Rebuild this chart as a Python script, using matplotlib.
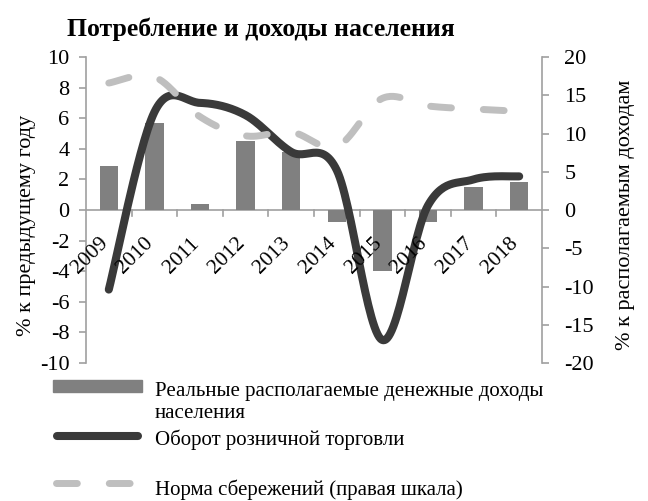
import numpy as np
import matplotlib
matplotlib.use("Agg")
import matplotlib.pyplot as plt
from matplotlib.lines import Line2D
from matplotlib.patches import Rectangle

plt.rcParams['font.family'] = ['Liberation Serif', 'DejaVu Serif']
plt.rcParams['axes.unicode_minus'] = False

years = ['2009', '2010', '2011', '2012', '2013', '2014', '2015', '2016', '2017', '2018']
income = [2.9, 5.7, 0.4, 4.5, 3.8, -0.8, -4.0, -0.8, 1.5, 1.8]
retail = [-5.2, 6.4, 7.0, 6.2, 3.8, 2.6, -8.5, 0.3, 2.0, 2.2]
savings = [16.6, 17.4, 12.2, 9.7, 10.2, 8.3, 14.6, 13.6, 13.2, 12.9]

title = 'Потребление и доходы населения'
ylab_left = '% к предыдущему году'
ylab_right = '% к располагаемым доходам'
leg_income = 'Реальные располагаемые денежные доходы\nнаселения'
leg_retail = 'Оборот розничной торговли'
leg_savings = 'Норма сбережений (правая шкала)'

bar_col = '#808080'
line_col = '#3a3a3a'
dash_col = '#bfbfbf'
axis_col = '#a0a0a0'


def smooth(y, n=30):
    # bezier smoothing similar to excel "smoothed line"
    y = np.asarray(y, float)
    x = np.arange(len(y), dtype=float)
    xs, ys = [], []
    for i in range(len(y) - 1):
        p0 = np.array([x[max(i - 1, 0)], y[max(i - 1, 0)]])
        p1 = np.array([x[i], y[i]])
        p2 = np.array([x[i + 1], y[i + 1]])
        p3 = np.array([x[min(i + 2, len(y) - 1)], y[min(i + 2, len(y) - 1)]])
        c1 = p1 + (p2 - p0) / 6
        c2 = p2 - (p3 - p1) / 6
        t = np.linspace(0, 1, n)[:, None]
        pts = (1 - t) ** 3 * p1 + 3 * (1 - t) ** 2 * t * c1 + 3 * (1 - t) * t ** 2 * c2 + t ** 3 * p2
        xs.extend(pts[:, 0])
        ys.extend(pts[:, 1])
    return np.array(xs), np.array(ys)


fig = plt.figure(figsize=(6.48, 5.01), dpi=100)
ax = fig.add_axes([0.1327, 0.2754, 0.7037, 0.6108])
ax2 = ax.twinx()

xpos = np.arange(len(years))
ax.bar(xpos, income, width=0.4, color=bar_col, zorder=2)
sx, sy = smooth(retail)
ax.plot(sx, sy, color=line_col, lw=5.8, solid_capstyle='round', zorder=3)
ax.axhline(0, color=axis_col, lw=1.2, zorder=1)

tx, ty = smooth(savings)
ax2.plot(tx, ty, color=dash_col, lw=5, dashes=(3, 4.6), dash_capstyle='round')

ax.set_xlim(-0.5, len(years) - 0.5)
ax.set_ylim(-10, 10)
ax2.set_ylim(-20, 20)
ax.set_yticks(np.arange(-10, 11, 2))
ax2.set_yticks(np.arange(-20, 21, 5))

# category ticks on the zero line, between categories
for b in np.arange(0.5, len(years) - 0.5, 1):
    ax.plot([b, b], [0, -0.4], color=axis_col, lw=1.2, zorder=1)
for i, lab in enumerate(years):
    ax.text(i - 0.08, -2.0, lab, rotation=45, ha='right', va='center',
            rotation_mode='anchor', fontsize=15.5)
ax.set_xticks([])

for a in (ax, ax2):
    for s in ('top', 'bottom'):
        a.spines[s].set_visible(False)
    a.spines['left'].set_color(axis_col)
    a.spines['right'].set_color(axis_col)
    a.spines['left'].set_linewidth(1.2)
    a.spines['right'].set_linewidth(1.2)
ax.spines['right'].set_visible(False)
ax2.spines['left'].set_visible(False)
ax.tick_params(axis='y', colors=axis_col, labelcolor='black', labelsize=16,
               length=5, width=1.2, pad=7)
ax2.tick_params(axis='y', colors=axis_col, labelcolor='black', labelsize=16,
                length=5, width=1.2, pad=11)

fig.text(0.041, 0.55, ylab_left, rotation=90, ha='center', va='center', fontsize=16)
fig.text(0.965, 0.571, ylab_right, rotation=90, ha='center', va='center', fontsize=16)
fig.text(0.402, 0.941, title, ha='center', va='center', fontsize=18.5, fontweight='bold')

# legend drawn by hand (excel layout)
W, H = 648.0, 501.0
fig.add_artist(Rectangle((53 / W, 1 - 392 / H), 89 / W, 12 / H, color=bar_col,
                         transform=fig.transFigure))
fig.add_artist(Line2D([57 / W, 138 / W], [1 - 436 / H] * 2, color=line_col, lw=5.8,
                      solid_capstyle='round', transform=fig.transFigure))
fig.add_artist(Line2D([56 / W, 140 / W], [1 - 483 / H] * 2, color=dash_col, lw=5,
                      dashes=(3, 4.6), dash_capstyle='round', transform=fig.transFigure))
fig.text(155 / W, 1 - 382 / H, leg_income, ha='left', va='top', fontsize=15, linespacing=1.2)
fig.text(155 / W, 1 - 440 / H, leg_retail, ha='left', va='center', fontsize=15)
fig.text(155 / W, 1 - 490 / H, leg_savings, ha='left', va='center', fontsize=15)

fig.savefig('out.png', dpi=100)
